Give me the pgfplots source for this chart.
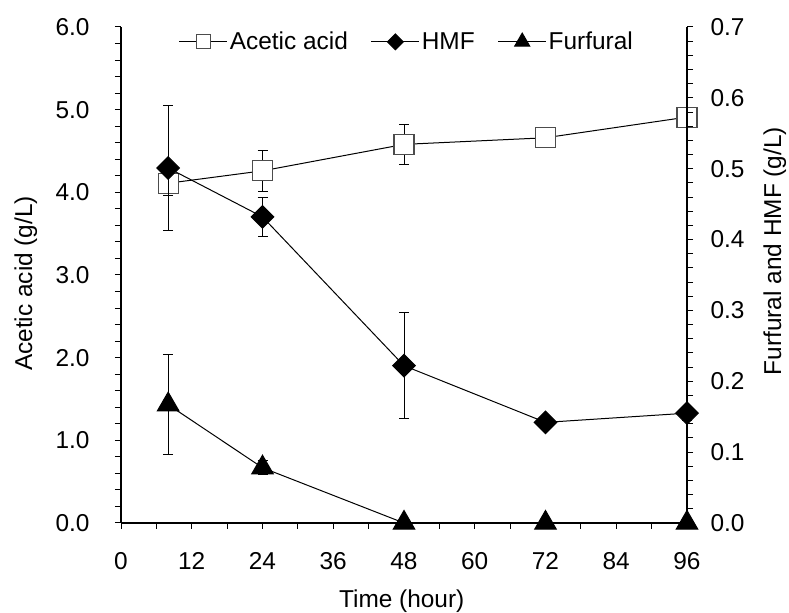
\documentclass[border=0pt]{standalone}
\usepackage{fontspec}
\setmainfont{Liberation Sans}
\usepackage{pgfplots}
\pgfplotsset{compat=1.18}
\usetikzlibrary{calc}

% Acetic acid (g/L): time, mean, std
\pgfplotstableread{
t   y     e
8   4.11  0.15
24  4.26  0.25
48  4.58  0.24
72  4.66  0.05
96  4.91  0.06
}\acetic
% HMF (g/L)
\pgfplotstableread{
t   y      e
8   0.501  0.088
24  0.432  0.028
48  0.222  0.075
72  0.142  0.008
96  0.155  0.010
}\hmf
% Furfural (g/L)
\pgfplotstableread{
t   y      e
8   0.167  0.071
24  0.078  0.010
48  0      0
72  0      0
96  0      0
}\furfural

\begin{document}
\begin{tikzpicture}
\pgfplotsset{
  base/.style={
    scale only axis, width=566bp, height=496bp,
    xmin=0, xmax=96,
    font=\fontsize{24.5}{29}\selectfont,
    tick align=outside,
    major tick length=6bp, minor tick length=6bp,
    every tick/.style={black, line width=1bp},
    axis line style={line width=1.3bp},
    /pgf/number format/assume math mode=true,
    clip=false,
  },
  errs/.style={
    error bars/.cd, y dir=both, y explicit,
    error bar style={line width=1bp, black},
    error mark options={black, line width=1bp, mark size=5bp, rotate=90},
  },
  aceticstyle/.style={black, line width=1bp, mark=square*, mark size=10bp,
    mark options={fill=white, draw=black!70, line width=1.1bp}},
  hmfstyle/.style={black, line width=1bp, mark=square*, mark size=8bp,
    mark options={fill=black, rotate=45}},
  furstyle/.style={black, line width=1bp, mark=triangle*, mark size=12.5bp,
    mark options={fill=black}},
}
\begin{axis}[base, name=ax,
  axis x line*=bottom, axis y line*=left,
  xtick={0,12,...,96}, minor xtick={6,18,...,90},
  xticklabel style={yshift=-20bp},
  ymin=0, ymax=6, ytick={0,1,...,6}, minor y tick num=4,
  yticklabel style={xshift=-22bp, /pgf/number format/.cd, fixed, fixed zerofill, precision=1},
  xlabel={Time (hour)},
  ylabel={Acetic acid (g/L)},
  xlabel style={at={(axis description cs:0.496,-0.157)}, anchor=center},
  ylabel style={at={(axis description cs:-0.168,0.483)}, anchor=center},
]
\addplot+[aceticstyle, errs] table[x=t, y=y, y error=e] {\acetic};
\end{axis}
\begin{axis}[base,
  axis x line=none, axis y line*=right,
  ymin=0, ymax=0.7, ytick={0,0.1,...,0.7}, minor y tick num=4,
  yticklabel style={xshift=14bp, /pgf/number format/.cd, fixed, fixed zerofill, precision=1},
  ylabel={Furfural and HMF (g/L)},
  ylabel style={at={(axis description cs:1.155,0.548)}, anchor=center, rotate=0},
  legend style={draw=none, fill=none, at={(axis description cs:0.505,0.97)},
    anchor=center, legend columns=3, font=\fontsize{24.5}{29}\selectfont,
    /tikz/every even column/.append style={column sep=21bp}},
  legend image code/.code={%
    \draw[mark repeat=2, mark phase=2, #1, every mark/.append style={scale=0.7}]
      plot coordinates {(0bp,0bp) (24bp,0bp) (48bp,0bp)};},
]
\addlegendimage{aceticstyle}
\addlegendentry{Acetic acid}
\addplot+[hmfstyle, errs] table[x=t, y=y, y error=e] {\hmf};
\addlegendentry{HMF}
\addplot+[furstyle, errs] table[x=t, y=y, y error=e] {\furfural};
\addlegendentry{Furfural}
\end{axis}
\pgfresetboundingbox
\path ($(ax.south west)+(-121bp,-90bp)$) rectangle ($(ax.north east)+(102bp,27bp)$);
\end{tikzpicture}
\end{document}
